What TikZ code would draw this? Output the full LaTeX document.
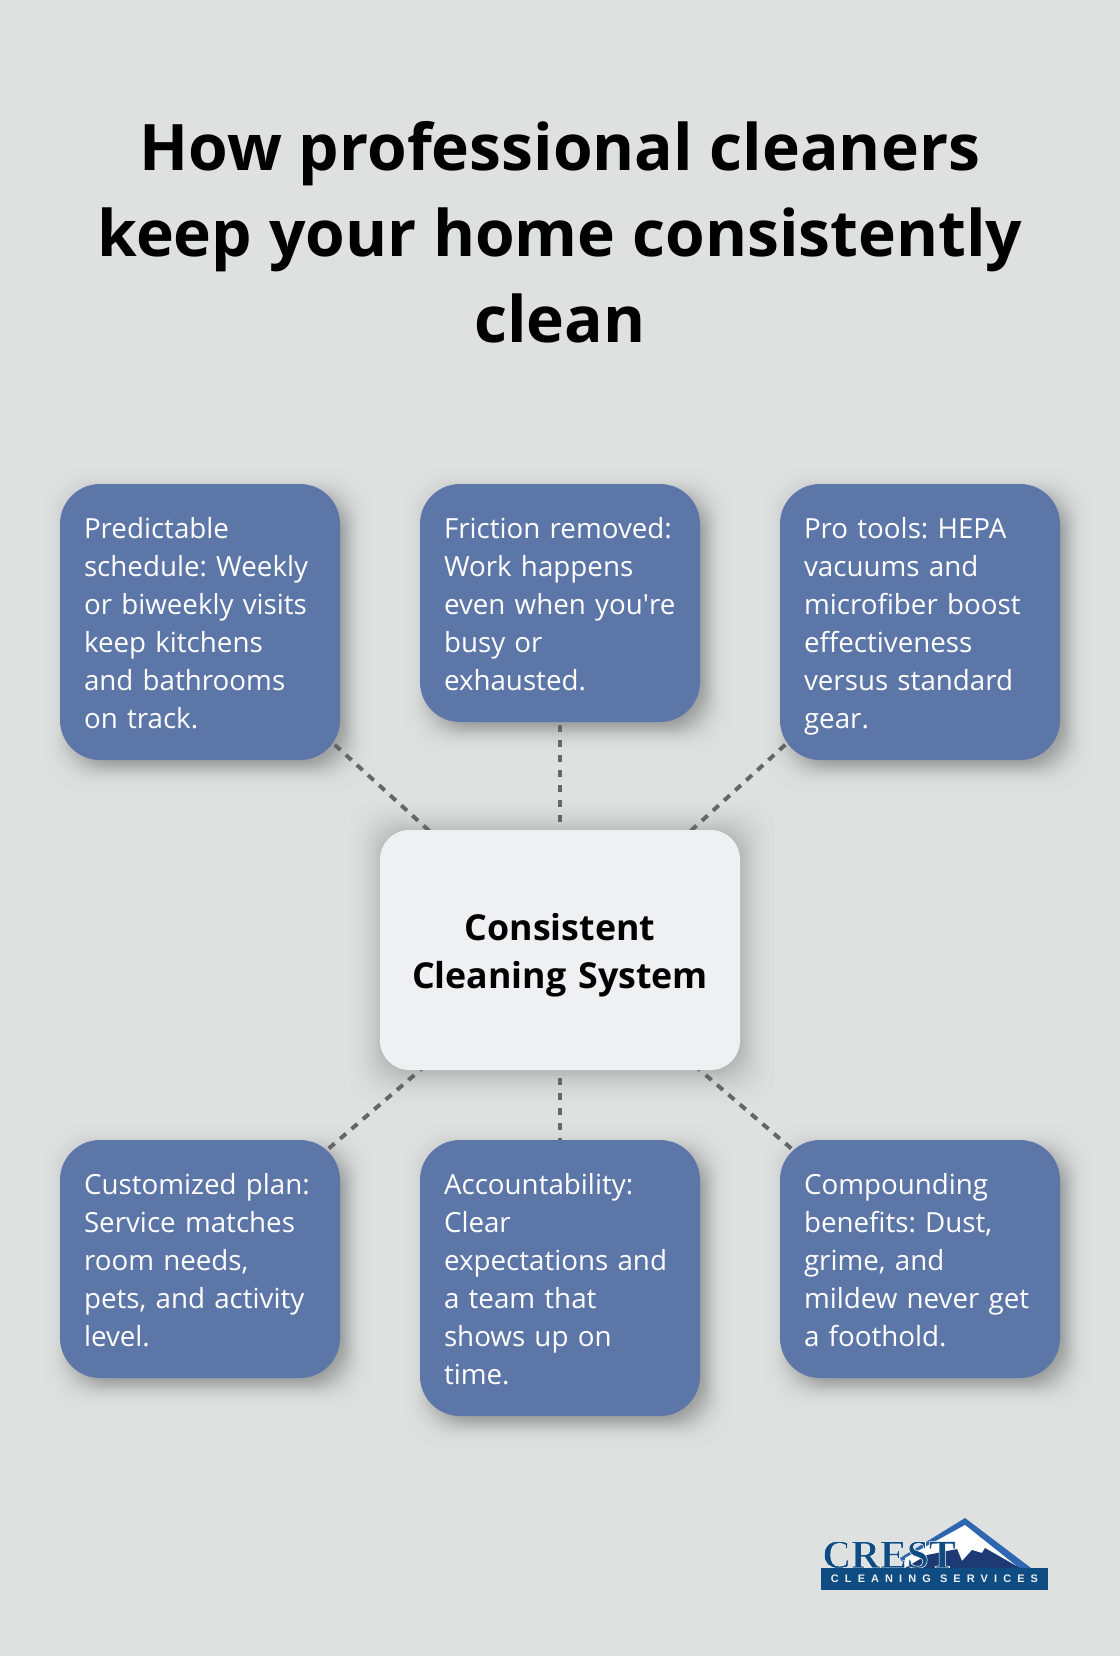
\documentclass[tikz,border=0pt]{standalone}
\usepackage{fontspec}
\setmainfont{Open Sans}
\newfontfamily\logoserif{Liberation Serif}
\newfontfamily\logosans{Liberation Sans}
\usetikzlibrary{backgrounds}
\definecolor{pagebg}{HTML}{DFE1E0}
\definecolor{cardblue}{HTML}{5D76A8}
\definecolor{hubwhite}{HTML}{EFF0F2}
\definecolor{linkgrey}{HTML}{666666}
\definecolor{crestblue}{HTML}{0F4C81}
\definecolor{crestnavy}{HTML}{1D3A75}
\definecolor{crestedge}{HTML}{2F66B0}

\begin{document}
\begin{tikzpicture}[x=0.75pt,y=-0.75pt,
    card/.style={shape=rectangle, anchor=north west, rounded corners=30pt, fill=cardblue, text=white,
      minimum width=210pt, text width=174pt, align=left, inner sep=0pt, outer sep=0pt,
      font=\fontsize{20.8}{28.5}\selectfont\frenchspacing,
      execute at begin node={\rule{0pt}{22.5pt}}, execute at end node={\rule[-6pt]{0pt}{0pt}}},
    hub/.style={shape=rectangle, anchor=north west, rounded corners=22pt, fill=hubwhite, text=black,
      minimum width=270pt, minimum height=180pt, text width=260pt, align=center, inner sep=0pt, outer sep=0pt,
      font=\fontsize{26.8}{36.3}\selectfont\bfseries,
      execute at begin node={\rule{0pt}{29pt}}, execute at end node={\rule[-7pt]{0pt}{0pt}}},
    headline/.style={align=center, inner sep=0pt, text=black,
      font=\fontsize{48.1}{64.5}\selectfont\bfseries},
    link/.style={draw=linkgrey, line width=3pt, dash pattern=on 5.8pt off 5.45pt, dash phase=5.45pt},
    softshadow/.style={fill=black, fill opacity=0.0075, draw=none}]

  % page
  \useasboundingbox (0,0) rectangle (1120,1656);

  \node[headline] (title) at (560,232) {How professional cleaners\\keep your home consistently\\clean};

  \node[card, minimum height=207pt] (schedule) at (60,484)
    {Predictable\\schedule: Weekly\\or biweekly visits\\keep kitchens\\and bathrooms\\on track.};
  \node[card, minimum height=178.5pt] (friction) at (420,484)
    {Friction removed:\\Work happens\\\mbox{even when you\textquotesingle re}\\busy or\\exhausted.};
  \node[card, minimum height=207pt] (tools) at (780,484)
    {Pro tools: HEPA\\vacuums and\\microfiber boost\\effectiveness\\versus standard\\gear.};

  \node[hub] (system) at (380,830) {Consistent\\Cleaning System};

  \node[card, minimum height=178.5pt] (plan) at (60,1140)
    {Customized plan:\\Service matches\\room needs,\\pets, and activity\\level.};
  \node[card, minimum height=207pt] (account) at (420,1140)
    {Accountability:\\Clear\\expectations and\\a team that\\shows up on\\time.};
  \node[card, minimum height=178.5pt] (benefits) at (780,1140)
    {Compounding\\benefits: Dust,\\grime, and\\mildew never get\\a foothold.};

  \begin{scope}[on background layer]
    \fill[pagebg] (0,0) rectangle (1120,1656);
    % shadows
    \foreach \boxname in {schedule,friction,tools,plan,account,benefits}
      \foreach \i in {1,...,40} {
        \pgfmathsetmacro\spread{5.5*ln((\i-0.5)/(40.5-\i))}
        \path[softshadow, rounded corners=30pt]
          ([shift={(8-\spread,8+\spread)}]\boxname.south west) rectangle ([shift={(8+\spread,8-\spread)}]\boxname.north east);
      }
    \foreach \i in {2,...,39} {
      \pgfmathsetmacro\spread{10*ln((\i-0.5)/(40.5-\i))}
      \path[softshadow, fill opacity=0.006, rounded corners=22pt]
        ([shift={(2-\spread,2+\spread)}]system.south west) rectangle ([shift={(2+\spread,2-\spread)}]system.north east);
    }
    % links
    \foreach \boxname in {friction,account}
      \draw[link] (system.center) -- (\boxname.center);
    \foreach \boxname in {schedule,tools,plan,benefits}
      \draw[link, dash phase=2.25pt] (system.center) -- (\boxname.center);
  \end{scope}

  % logo
  \fill[crestedge] (900,1558) -- (965,1518) -- (1031,1568) -- (905,1568) -- cycle;
  \fill[white] (905,1558) -- (965,1525) -- (1019,1568) -- (905,1568) -- cycle;
  \fill[crestnavy] (927,1555) -- (957,1549) -- (962,1561) -- (972,1550) -- (982,1553) -- (985,1548) -- (1020,1568) -- (905,1568) -- cycle;
  \node[inner sep=0pt, anchor=south west, text=crestblue] (crest) at (822,1568.5)
    {\fontsize{30}{30}\selectfont\logoserif\bfseries\special{pdf:code 2 Tr 0.4 w 1 1 1 RG}CREST\special{pdf:code 0 Tr}};
  \node[fill=crestblue, text=white!92!crestblue, minimum width=170.25pt, minimum height=16.5pt, inner sep=0pt] (banner) at (934.5,1579)
    {\fontsize{8.2}{8.2}\selectfont\logosans\bfseries\addfontfeatures{LetterSpace=56}CLEANING SERVICES};
\end{tikzpicture}
\end{document}
